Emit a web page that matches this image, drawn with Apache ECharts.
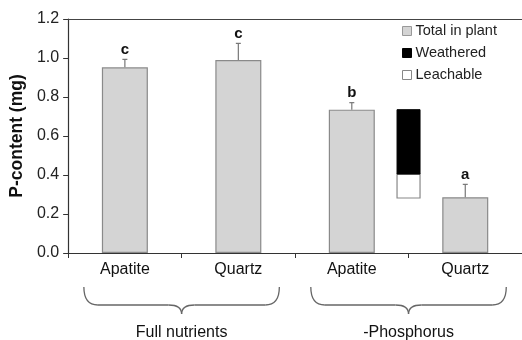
<!DOCTYPE html>
<html><head><meta charset="utf-8">
<script src="https://cdn.jsdelivr.net/npm/echarts@6/dist/echarts.min.js"></script>
<style>html,body{margin:0;padding:0;background:#fff}#c{width:522px;height:340px}</style>
</head><body><div id="c"></div>
<script>
const categories = ['Apatite', 'Quartz', 'Apatite', 'Quartz'];
const groupNames = ['Full nutrients', '-Phosphorus'];
const groupSpans = [[0, 1], [2, 3]];
const totalInPlant = [0.952, 0.99, 0.735, 0.286];
const errorTop = [0.993, 1.075, 0.771, 0.352];
const letters = ['c', 'c', 'b', 'a'];
const floatLeftIndex = 2; // floating bar sits between categories 2 and 3
const leachable = [0.282, 0.405];
const weathered = [0.405, 0.735];
const yMin = 0, yMax = 1.2, yStep = 0.2;

const FONT = '"Liberation Sans", Arial, sans-serif';
const chart = echarts.init(document.getElementById('c'), null, {renderer: 'canvas'});

function floatRender(params, api) {
  const x = api.value(0);
  const a = api.coord([x, api.value(1)]);
  const b = api.coord([x + 1, api.value(2)]);
  const cx = (a[0] + b[0]) / 2;
  const w = 23;
  const st = params.seriesName === 'Weathered'
    ? {fill: '#000', stroke: '#000', lineWidth: 1}
    : {fill: '#fff', stroke: '#888', lineWidth: 1.2};
  return {type: 'rect', shape: {x: cx - w / 2, y: b[1], width: w, height: a[1] - b[1]}, style: st};
}

chart.setOption({
  animation: false,
  textStyle: {fontFamily: FONT},
  grid: {left: 65, top: 19, bottom: 87, right: -3},
  legend: {
    orient: 'vertical', left: 402, top: 23.5, padding: 0,
    itemWidth: 9, itemHeight: 9, itemGap: 7, icon: 'rect',
    textStyle: {fontSize: 14.5, color: '#222', fontFamily: FONT, padding: [0, 0, 0, -1]},
    data: [
      {name: 'Total in plant', itemStyle: {color: '#d4d4d4', borderColor: '#999', borderWidth: 1}},
      {name: 'Weathered', itemStyle: {color: '#000', borderColor: '#000', borderWidth: 1}},
      {name: 'Leachable', itemStyle: {color: '#fff', borderColor: '#888', borderWidth: 1}}
    ]
  },
  xAxis: [
    {
      type: 'category', data: categories, position: 'bottom',
      axisLine: {lineStyle: {color: '#333', width: 1.2}},
      axisTick: {show: true, length: 5, lineStyle: {color: '#333'}},
      axisLabel: {fontSize: 16, color: '#111', margin: 9, fontFamily: FONT}
    },
    {
      type: 'category', data: categories, position: 'top',
      axisLine: {lineStyle: {color: '#444', width: 1}},
      axisTick: {show: false}, axisLabel: {show: false}
    }
  ],
  yAxis: {
    type: 'value', min: yMin, max: yMax, interval: yStep,
    name: 'P-content (mg)', nameLocation: 'middle', nameGap: 32,
    nameTextStyle: {fontSize: 17.5, fontWeight: 'bold', color: '#111', fontFamily: FONT},
    axisLine: {show: true, lineStyle: {color: '#333', width: 1.2}},
    axisTick: {show: true, length: 5, lineStyle: {color: '#333'}},
    axisLabel: {fontSize: 16, color: '#222', margin: 9, formatter: v => v.toFixed(1), fontFamily: FONT},
    splitLine: {show: false}
  },
  series: [
    {
      name: 'Total in plant', type: 'bar', data: totalInPlant, barWidth: 46,
      itemStyle: {color: '#d4d4d4', borderColor: '#8a8a8a', borderWidth: 1.2}
    },
    {
      name: 'errors', type: 'custom', z: 3,
      data: totalInPlant.map((v, i) => [i, v, errorTop[i]]),
      encode: {x: 0, y: [1, 2]},
      renderItem(params, api) {
        const i = api.value(0);
        const p0 = api.coord([i, api.value(1)]);
        const p1 = api.coord([i, api.value(2)]);
        return {type: 'group', children: [
          {type: 'line', shape: {x1: p0[0], y1: p0[1], x2: p1[0], y2: p1[1]}, style: {stroke: '#777', lineWidth: 1.2}},
          {type: 'line', shape: {x1: p1[0] - 2.5, y1: p1[1], x2: p1[0] + 2.5, y2: p1[1]}, style: {stroke: '#777', lineWidth: 1.2}},
          {type: 'text', style: {text: letters[params.dataIndex], x: p1[0], y: p1[1] - 2, textAlign: 'center', textVerticalAlign: 'bottom', font: 'bold 15px ' + FONT, fill: '#111'}}
        ]};
      }
    },
    {
      name: 'Leachable', type: 'custom', z: 3,
      itemStyle: {color: '#fff', borderColor: '#888', borderWidth: 1},
      data: [[floatLeftIndex, leachable[0], leachable[1]]],
      encode: {x: 0, y: [1, 2]},
      renderItem: floatRender
    },
    {
      name: 'Weathered', type: 'custom', z: 3,
      itemStyle: {color: '#000'},
      data: [[floatLeftIndex, weathered[0], weathered[1]]],
      encode: {x: 0, y: [1, 2]},
      renderItem: floatRender
    }
  ]
});

// group braces under the axis, positioned from the category axis
const graphics = [];
const braceStyle = {fill: null, stroke: '#666', lineWidth: 1.3};
groupSpans.forEach((span, g) => {
  const xa = chart.convertToPixel({xAxisIndex: 0}, span[0]) - 41;
  const xb = chart.convertToPixel({xAxisIndex: 0}, span[1]) + 41;
  const xm = (xa + xb) / 2;
  const yTop = 287, yMid = 305, yTip = 314, r = 14;
  graphics.push(
    {type: 'bezierCurve', shape: {x1: xa, y1: yTop, x2: xa + r, y2: yMid, cpx1: xa, cpy1: yMid}, style: braceStyle},
    {type: 'line', shape: {x1: xa + r, y1: yMid, x2: xm - 13, y2: yMid}, style: braceStyle},
    {type: 'bezierCurve', shape: {x1: xm - 13, y1: yMid, x2: xm, y2: yTip, cpx1: xm, cpy1: yMid}, style: braceStyle},
    {type: 'bezierCurve', shape: {x1: xm, y1: yTip, x2: xm + 13, y2: yMid, cpx1: xm, cpy1: yMid}, style: braceStyle},
    {type: 'line', shape: {x1: xm + 13, y1: yMid, x2: xb - r, y2: yMid}, style: braceStyle},
    {type: 'bezierCurve', shape: {x1: xb - r, y1: yMid, x2: xb, y2: yTop, cpx1: xb, cpy1: yMid}, style: braceStyle},
    {type: 'text', x: xm, y: 333, style: {text: groupNames[g], textAlign: 'center', textVerticalAlign: 'middle', font: '16px ' + FONT, fill: '#111'}}
  );
});
chart.setOption({graphic: graphics});
</script>
</body></html>
